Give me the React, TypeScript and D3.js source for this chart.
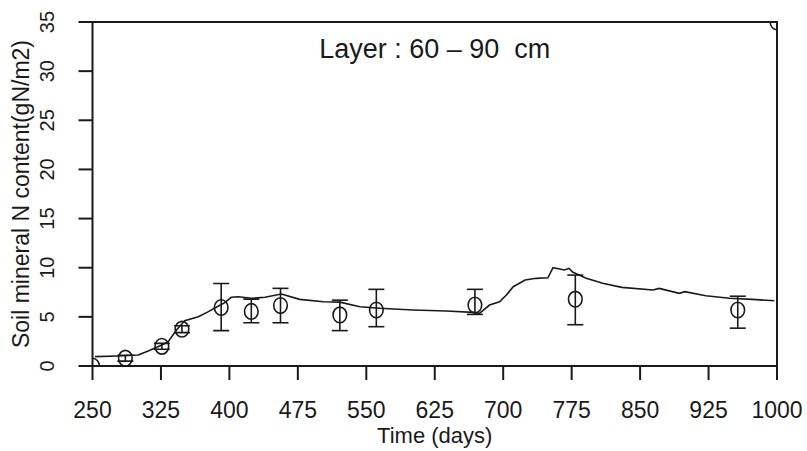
import React, { useEffect, useRef } from 'react'
import * as d3 from 'd3'

// simulated soil mineral N (line)
const simDays = [252.7, 278, 300, 311, 326, 333, 342, 351, 366, 377, 388, 395, 402, 410, 424, 439, 457, 477, 503, 521, 543, 565, 601, 638, 667, 674, 685, 696, 703.5, 711, 724, 736, 749, 754.6, 762, 767, 772, 776.5, 791, 809, 830, 864, 871, 893, 899, 922, 948, 973, 997]
const simVals = [0.95, 1.02, 1.12, 1.53, 2.14, 2.48, 3.66, 4.61, 5.02, 5.53, 6.1, 6.44, 6.99, 7.05, 6.89, 6.99, 7.33, 6.78, 6.54, 6.5, 6.03, 5.87, 5.7, 5.6, 5.46, 5.36, 6.2, 6.54, 7.22, 8.07, 8.75, 8.92, 8.98, 10.0, 9.87, 9.77, 9.94, 9.53, 8.92, 8.41, 8.0, 7.73, 7.9, 7.39, 7.56, 7.15, 6.89, 6.78, 6.64]

// observed values with error bars
const obsDays = [286, 326, 348, 391, 424, 456, 521, 561, 669, 779, 957]
const obsVals = [0.8, 2.0, 3.75, 5.95, 5.55, 6.15, 5.2, 5.7, 6.2, 6.8, 5.7]
const obsHigh = [1.1, 2.3, 4.1, 8.4, 6.8, 7.9, 6.7, 7.8, 7.8, 9.25, 7.1]
const obsLow = [0.5, 1.7, 3.4, 3.6, 4.4, 4.4, 3.6, 4.0, 5.25, 4.2, 3.85]

// points sitting on the plot corners (only partly visible)
const cornerDays = [250, 1000]
const cornerVals = [0, 35]

const xTicks = [250, 325, 400, 475, 550, 625, 700, 775, 850, 925, 1000]
const yTicks = [0, 5, 10, 15, 20, 25, 30, 35]

const App = () => {
  const ref = useRef<SVGSVGElement | null>(null)

  useEffect(() => {
    document.body.style.margin = '0'
    const svg = d3.select(ref.current)
    svg.selectAll('*').remove()

    const left = 92.5, right = 777, top = 22, bottom = 366
    const ink = '#1a1a1a'
    const font = 'Liberation Sans, Arial, Helvetica, sans-serif'

    const x = d3.scaleLinear().domain([250, 1000]).range([left, right])
    const y = d3.scaleLinear().domain([0, 35]).range([bottom, top])

    svg.append('defs').append('clipPath').attr('id', 'plotClip')
      .append('rect')
      .attr('x', left).attr('y', top)
      .attr('width', right - left).attr('height', bottom - top)

    // box
    svg.append('rect')
      .attr('x', left).attr('y', top)
      .attr('width', right - left).attr('height', bottom - top)
      .attr('fill', 'none').attr('stroke', ink).attr('stroke-width', 2)

    // x ticks + labels
    const xg = svg.append('g')
    xg.selectAll('line').data(xTicks).join('line')
      .attr('x1', d => x(d)).attr('x2', d => x(d))
      .attr('y1', bottom).attr('y2', bottom + 14)
      .attr('stroke', ink).attr('stroke-width', 2)
    xg.selectAll('text').data(xTicks).join('text')
      .attr('x', d => x(d)).attr('y', 418)
      .attr('text-anchor', 'middle')
      .attr('font-family', font).attr('font-size', 23)
      .attr('fill', ink)
      .text(d => d)

    // y ticks + labels
    const yg = svg.append('g')
    yg.selectAll('line').data(yTicks).join('line')
      .attr('x1', left - 14).attr('x2', left)
      .attr('y1', d => y(d)).attr('y2', d => y(d))
      .attr('stroke', ink).attr('stroke-width', 2)
    yg.selectAll('text').data(yTicks).join('text')
      .attr('transform', d => `translate(53.5, ${y(d)}) rotate(-90)`)
      .attr('text-anchor', 'middle')
      .attr('font-family', font).attr('font-size', 20)
      .attr('fill', ink)
      .text(d => d)

    // axis titles
    svg.append('text')
      .attr('x', (left + right) / 2).attr('y', 443)
      .attr('text-anchor', 'middle')
      .attr('font-family', font).attr('font-size', 22)
      .attr('fill', ink)
      .text('Time (days)')
    svg.append('text')
      .attr('transform', `translate(28.5, ${(top + bottom) / 2}) rotate(-90)`)
      .attr('text-anchor', 'middle')
      .attr('font-family', font).attr('font-size', 23)
      .attr('fill', ink)
      .text('Soil mineral N content(gN/m2)')

    // layer label
    svg.append('text')
      .attr('x', (left + right) / 2).attr('y', 58)
      .attr('text-anchor', 'middle')
      .attr('font-family', font).attr('font-size', 27)
      .attr('fill', ink)
      .attr('xml:space', 'preserve')
      .style('white-space', 'pre')
      .text('Layer : 60 \u2013 90  cm')

    const plot = svg.append('g').attr('clip-path', 'url(#plotClip)')

    // simulated line
    const line = d3.line<number>()
      .x((d, i) => x(simDays[i]))
      .y(d => y(d))
    plot.append('path')
      .attr('d', line(simVals))
      .attr('fill', 'none').attr('stroke', ink).attr('stroke-width', 1.6)

    // error bars
    const eb = plot.append('g').attr('stroke', ink).attr('stroke-width', 1.6)
    obsDays.forEach((d, i) => {
      eb.append('line')
        .attr('x1', x(d)).attr('x2', x(d))
        .attr('y1', y(obsLow[i])).attr('y2', y(obsHigh[i]))
      eb.append('line')
        .attr('x1', x(d) - 8).attr('x2', x(d) + 8)
        .attr('y1', y(obsLow[i])).attr('y2', y(obsLow[i]))
      eb.append('line')
        .attr('x1', x(d) - 8).attr('x2', x(d) + 8)
        .attr('y1', y(obsHigh[i])).attr('y2', y(obsHigh[i]))
    })

    // observed points
    plot.selectAll('ellipse.obs').data(obsVals).join('ellipse')
      .attr('class', 'obs')
      .attr('cx', (d, i) => x(obsDays[i])).attr('cy', d => y(d))
      .attr('rx', 6.8).attr('ry', 7.8)
      .attr('fill', 'none').attr('stroke', ink).attr('stroke-width', 1.6)
    plot.selectAll('ellipse.corner').data(cornerVals).join('ellipse')
      .attr('class', 'corner')
      .attr('cx', (d, i) => x(cornerDays[i])).attr('cy', d => y(d))
      .attr('rx', 6.8).attr('ry', 7.8)
      .attr('fill', 'none').attr('stroke', ink).attr('stroke-width', 1.6)
  })

  return <svg ref={ref} width={807} height={451} style={{ display: 'block', background: '#fff' }} />
}

export default App
